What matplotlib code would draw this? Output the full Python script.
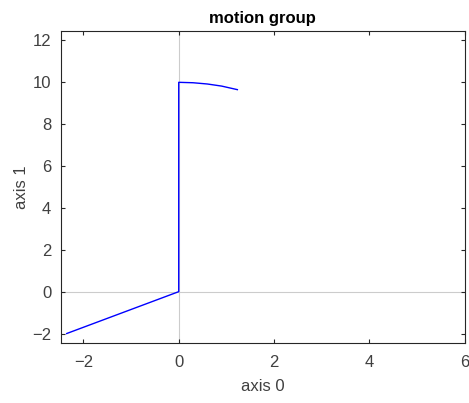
import numpy as np
import matplotlib.pyplot as plt

plt.rcParams['font.family'] = ['Liberation Sans', 'DejaVu Sans']

# path of the motion group
path_x = [-2.35, 0.0, 0.0, 0.3, 0.6, 0.9, 1.23]
path_y = [-2.0, 0.0, 10.0, 9.98, 9.92, 9.82, 9.65]

x_ticks = [-2, 0, 2, 4, 6]
y_ticks = [-2, 0, 2, 4, 6, 8, 10, 12]

fig = plt.figure(figsize=(4.69, 4.03), dpi=100)
ax = fig.add_axes([0.130, 0.149, 0.861, 0.774])

ax.axhline(0, color='#cccccc', lw=0.8, zorder=1)
ax.axvline(0, color='#cccccc', lw=0.8, zorder=1)
ax.plot(path_x, path_y, color='blue', lw=1, zorder=2)

ax.set_xlim(-2.47, 6)
ax.set_ylim(-2.45, 12.45)
ax.set_xticks(x_ticks)
ax.set_yticks(y_ticks)
ax.tick_params(direction='in', top=True, right=True, length=3,
               labelsize=12, colors='#262626', labelcolor='#404040')
ax.tick_params(axis='x', pad=9)
ax.tick_params(axis='y', pad=7)
for s in ax.spines.values():
    s.set_color('#262626')
    s.set_linewidth(0.8)

ax.set_title('motion group', fontsize=12, fontweight='bold', pad=6)
ax.set_xlabel('axis 0', fontsize=12, color='#404040', labelpad=6)
ax.set_ylabel('axis 1', fontsize=12, color='#404040', labelpad=2)

fig.savefig('out.png', dpi=100)
